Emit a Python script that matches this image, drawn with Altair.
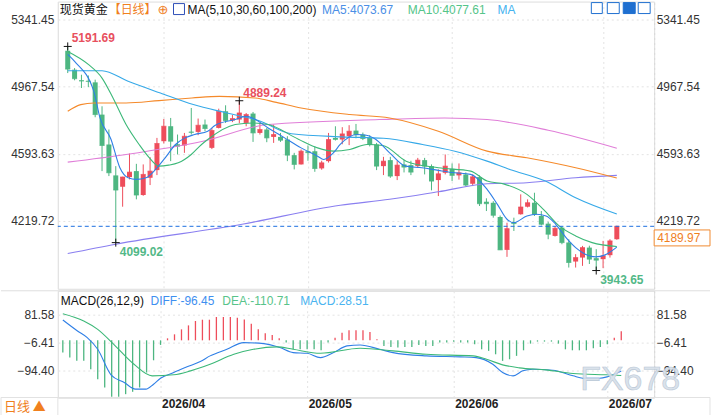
import altair as alt
import pandas as pd

FONT = "Liberation Sans, Noto Sans CJK SC, sans-serif"
CJK = "Noto Sans CJK SC, sans-serif"
UP = "#ee4d5b"
DOWN = "#4db681"
GRID = "#e3e3e3"
ORANGE = "#f0801e"

# ---------------- daily candles (index 0 = first session shown) ----------------
day = list(range(81))
opens = [5167.6, 5062, 5003, 5000, 4991.6, 4812, 4645.6, 4473.5, 4410.2, 4464,
         4497.4, 4364.1, 4460.2, 4502.9, 4663.9, 4747.3, 4647, 4640, 4717, 4715.6,
         4756.7, 4626.8, 4737.8, 4830.6, 4779, 4784.5, 4765.6, 4817.8, 4710, 4729,
         4687.8, 4687.8, 4673.4, 4586.2, 4534.6, 4608, 4608.4, 4512.4, 4552.9, 4682,
         4673.4, 4691.7, 4723, 4701, 4682, 4645.6, 4525.1, 4558.5, 4469.6, 4534.6,
         4530.7, 4525.1, 4558.5, 4525.1, 4447.4, 4487.9, 4510, 4473.5, 4479, 4426.9,
         4464, 4326.9, 4321, 4241.9, 4058.7, 4214, 4257, 4299, 4321.4, 4247.5,
         4204.7, 4136.4, 4182.5, 4099.2, 3993.7, 4015.9, 4071.4, 4012.6, 4007, 4029.2,
         4118]
highs = [5191.69, 5071, 5034, 5030, 5006.6, 4858.3, 4728.9, 4525.1, 4466, 4595.6,
         4537.9, 4534.6, 4575.1, 4682.3, 4787.8, 4793.4, 4701, 4710, 4848.9, 4790,
         4784.5, 4737.8, 4845, 4863.9, 4810, 4889.24, 4821, 4826.7, 4765.6, 4737.8,
         4756.7, 4710, 4691.7, 4599, 4617.9, 4640, 4636.2, 4555, 4710, 4747,
         4742, 4753, 4760, 4712, 4698, 4654.5, 4576.8, 4576.8, 4552.9, 4560,
         4555, 4571, 4571, 4534.6, 4506.8, 4590, 4540, 4540, 4490, 4479,
         4473.5, 4346, 4330, 4250, 4210, 4238, 4368, 4340, 4376.9, 4275,
         4215, 4190, 4190, 4118, 4034.8, 4080.9, 4082, 4062.6, 4108.7, 4118,
         4193]
lows = [5043.3, 5003, 4960, 4965, 4797.2, 4497.4, 4469.6, 4099.02, 4299.1, 4451.3,
        4340.2, 4360, 4419.6, 4475.2, 4651.2, 4552.9, 4590, 4599, 4701, 4697.3,
        4719.5, 4620, 4735, 4765.6, 4770, 4764, 4747, 4660, 4701, 4658.4,
        4654.5, 4660, 4552.9, 4506.8, 4534, 4555, 4493.5, 4505, 4545, 4667.8,
        4647, 4642, 4680, 4670, 4635, 4503, 4475.2, 4460, 4447.4, 4490,
        4475, 4516, 4479, 4390.2, 4358.5, 4479, 4441.8, 4450, 4412, 4414,
        4303, 4275, 4238, 4058, 4019.8, 4164, 4255, 4295, 4247.5, 4195,
        4118, 4133, 4090, 3960.4, 3960.4, 3969.8, 3980, 3943.65, 3957, 4015.9,
        4115]
closes = [5065.4, 5012, 4999, 4997, 4812.2, 4640.1, 4488, 4391.9, 4464.1, 4491.8,
          4364.1, 4479, 4497.4, 4651.2, 4747.3, 4663.9, 4636, 4691.7, 4713, 4752.8,
          4734.5, 4723.4, 4830.6, 4778.9, 4790, 4821.2, 4812.2, 4710.1, 4729, 4682.3,
          4701, 4669.5, 4586.2, 4534.6, 4608.4, 4600, 4512.4, 4543.5, 4673.4, 4674,
          4704.5, 4719.5, 4700, 4679, 4645.6, 4525.1, 4552.9, 4469.6, 4530.7, 4519.6,
          4491.8, 4558.5, 4525.1, 4441.8, 4482.4, 4525.1, 4473.5, 4487.9, 4419.6, 4465.7,
          4315.8, 4316, 4251.4, 4058.7, 4177, 4205, 4297.5, 4321.4, 4257, 4201.4,
          4145.9, 4179, 4099.2, 3988.2, 4015.9, 4071.4, 4007, 4001.5, 4025.4, 4108.7,
          4189.97]

# ---------------- moving averages (session index, price) ----------------
ma5_day = [0, 1, 3.8, 4.7, 6.3, 7.6, 8.8, 10, 11.4, 12.8, 14.2, 15.7, 17.1, 18.5, 20.4,
           21.5, 24.4, 26, 26.9, 29.2, 31.6, 34, 36.4, 37.3, 38.7, 39.7, 42.1, 43.5, 44.9,
           46.9, 49.2, 51.6, 54, 56.4, 58.7, 61.1, 62.6, 64, 65, 66.9, 68.3, 69.7, 71.1,
           72.6, 74, 75.4, 76.9, 78.3, 80]
ma5_val = [5147.1, 5108.3, 4941.6, 4793.4, 4675.1, 4515.7, 4460.2, 4451.3, 4460.2, 4506.8,
           4571.3, 4645.6, 4682.4, 4701.2, 4719.5, 4752.8, 4784.5, 4802.8, 4793.4, 4737.8,
           4682.3, 4626.8, 4580.7, 4562.3, 4599, 4645.6, 4701.2, 4697.3, 4673.4, 4599,
           4525.1, 4515.7, 4501.3, 4488, 4479.1, 4396, 4312.4, 4229.2, 4210.3, 4247.5,
           4256.9, 4247.5, 4201.4, 4127, 4071.5, 4034.8, 4019.8, 4030.9, 4073.67]
ma10_day = [0, 3, 5, 6.6, 8.5, 10.4, 11.9, 13.3, 14.7, 16.1, 18, 19.5, 20.4, 24.4, 26.9,
            29.2, 33.6, 36.4, 38.7, 41.1, 43.6, 45.9, 49.3, 54, 58.7, 61.1, 63.6, 66.9,
            69.3, 71.6, 74, 76.4, 80]
ma10_val = [5163.7, 5091.6, 5015.5, 4904.4, 4756.7, 4645.6, 4571.3, 4525.1, 4530.7, 4543.5,
            4590.1, 4645.6, 4673.4, 4756.7, 4765.6, 4756.7, 4675, 4626.8, 4608.4, 4617.9,
            4645.6, 4640.1, 4552.9, 4515.7, 4497.4, 4441.8, 4425, 4368, 4284.7, 4192,
            4136.4, 4099.2, 4077.61]
ma30_day = [0, 5, 8.8, 13.5, 18.3, 23.2, 27.8, 32.6, 40, 46, 51.7, 56.4, 61.1, 64.4, 69.6, 74, 80]
ma30_val = [5056.6, 5056.6, 4997.2, 4932.2, 4867.8, 4821.1, 4779, 4705, 4688, 4680,
            4645.6, 4608.4, 4552.9, 4506.8, 4441.8, 4349.1, 4258.6]
ma60_day = [0, 1.9, 3.8, 8.5, 13.3, 18.1, 22.1, 27.3, 30.4, 34, 41.1, 46.9, 54, 61.1, 66.9, 74, 80]
ma60_val = [4830.6, 4867.7, 4876.6, 4876.6, 4890, 4904.4, 4913.8, 4904.4, 4880, 4848.9,
            4812.2, 4793.4, 4719.5, 4608.5, 4571.3, 4515.7, 4458.5]
ma100_day = [0, 8.5, 19.7, 29.2, 45.4, 54.9, 61.1, 70, 80]
ma100_val = [4547.3, 4590.1, 4664, 4756.7, 4784.5, 4793.4, 4784.5, 4725, 4625.1]
ma200_day = [0, 7, 25.4, 39.7, 46.9, 54, 61.1, 66.9, 74, 80]
ma200_val = [4038.1, 4090.3, 4201.4, 4307, 4340.2, 4382.4, 4426.9, 4432.4, 4460.2, 4473.5]

# ---------------- MACD(26,12,9) ----------------
macd_hist = [-38.7, -54.4, -64.7, -64.7, -91.1, -122.6, -148.6, -177.9, -177.9, -169.7,
             -162.2, -148.6, -101.5, -62.9, -14.5, 6.3, 18.9, 34.6, 47.1, 61,
             65, 65, 73.5, 73.5, 73.5, 71.3, 66, 52.5, 34.6, 22,
             17, 6.3, -7.2, -28.3, -28.3, -28.3, -28.3, -31.4, -7.2, 8.5,
             24.2, 31.4, 31.4, 31.4, 26.4, 3.1, -17.6, -20.7, -22.9, -20.7,
             -20.7, -14.5, -17.6, -17.6, -7.2, -7.2, -4.1, -7.2, -7.2, -12.6,
             -28.3, -33.3, -44, -64.7, -59.7, -49, -31.4, -10.4, -4, -4.1,
             -4.1, -10.4, -28.3, -31.4, -31.4, -31.4, -25.1, -20.7, -12.6, 8.5,
             28.51]
diff_day = [0, 2.1, 3.5, 5, 6.9, 8.8, 10.4, 11.9, 13, 14, 15.9, 17.8, 19.7, 21.1, 23.5,
            25.9, 28.8, 31.1, 33, 35, 36.9, 38.8, 40.7, 42.6, 45.4, 47.3, 52.1, 56.9, 59.2,
            61.6, 63, 64.5, 65.9, 67.3, 70.2, 73.1, 74.5, 76.9, 78, 80]
diff_val = [64.1, 29.5, 8.5, -28.3, -108.7, -132.9, -153.9, -153.9, -138.3, -119.4,
            -101.5, -83.6, -66.9, -49, -28.3, -7.2, -10.4, -22.9, -38.7, -40.9,
            -54.4, -38.7, -17.6, -14.5, -28.3, -38.7, -49, -52.2, -54.4, -75.4,
            -101.5, -111.9, -96.2, -91.1, -94.3, -111.9, -119.4, -119.4, -115, -96.45]
dea_day = [0, 3, 5, 7.3, 10.2, 12.8, 15.9, 18.3, 21.1, 24.5, 27.3, 30.7, 33, 36.9, 42.6,
           47.3, 52.1, 58.8, 60.7, 63, 65.4, 69.2, 73.1, 77.8, 80]
dea_val = [83.9, 61, 34.6, -12.6, -75.4, -111.9, -108.7, -96.2, -75.4, -44,
           -28.3, -20.7, -28.3, -40.9, -25.1, -33.3, -44, -49, -59.7, -77.3,
           -86.7, -93, -104.6, -108.7, -110.71]

# ---------------- axes / labels ----------------
month_ticks = [14, 35, 56, 78]
month_labels = ["2026/04", "2026/05", "2026/06", "2026/07"]
price_ticks = [5341.45, 4967.54, 4593.63, 4219.72]
macd_ticks = [81.58, -6.41, -94.40]
peak_days = [0, 25]
trough_days = [7, 77]

ma_names = ["MA200", "MA100", "MA60", "MA30", "MA10", "MA5"]
ma_colors = ["#8a7ff0", "#e07ed8", "#f58a2b", "#36a9e8", "#3cb878", "#2f7fe6"]
ma_days = [ma200_day, ma100_day, ma60_day, ma30_day, ma10_day, ma5_day]
ma_vals = [ma200_val, ma100_val, ma60_val, ma30_val, ma10_val, ma5_val]

# ---------------- tables ----------------
candles = pd.DataFrame({"day": day, "open": opens, "high": highs, "low": lows, "close": closes})
candles["dir"] = ["up" if c >= o else "down" for o, c in zip(opens, closes)]

peaks = pd.DataFrame({"day": peak_days, "value": [highs[d] for d in peak_days]})
troughs = pd.DataFrame({"day": trough_days, "value": [lows[d] for d in trough_days]})
marks_df = pd.concat([peaks, troughs], ignore_index=True)
last_df = pd.DataFrame({"price": [closes[-1]]})

hist_df = pd.DataFrame({"day": day, "hist": macd_hist})
hist_df["dir"] = ["up" if h >= 0 else "down" for h in macd_hist]
diff_df = pd.DataFrame({"day": diff_day, "value": diff_val})
dea_df = pd.DataFrame({"day": dea_day, "value": dea_val})
ONE = pd.DataFrame({"k": [0]})

# ---------------- scales ----------------
W, H_TOP, H_MACD = 598, 288, 107
x_scale = alt.Scale(domain=[-0.714, 84.714], nice=False, zero=False)
price_scale = alt.Scale(domain=[3842.1, 5441.4], nice=False, zero=False)
macd_scale = alt.Scale(domain=[-180.1, 156.2], nice=False, zero=False)
dir_color = alt.Color("dir:N", scale=alt.Scale(domain=["up", "down"], range=[UP, DOWN]), legend=None)

common_axis = dict(gridColor=GRID, gridDash=[2, 3], ticks=False, tickSize=0, title=None,
                   labelFont=FONT, labelFontSize=12, labelColor="#333")

x_top = alt.X("day:Q", scale=x_scale,
              axis=alt.Axis(values=month_ticks, labels=False, domain=False, grid=True, **common_axis))
label_expr = " : ".join(f"datum.value == {t} ? '{l}'" for t, l in zip(month_ticks, month_labels)) + " : ''"
x_bottom = alt.X("day:Q", scale=x_scale,
                 axis=alt.Axis(values=month_ticks, labelExpr=label_expr, grid=True, domain=True,
                               domainColor="#dddddd", labelAlign="left", labelOffset=1,
                               labelFontWeight="bold", labelPadding=1, labelFlush=False,
                               labelOverlap=False, **{**common_axis, "labelColor": "#222"}))


def left_axis(values):
    return alt.Axis(values=values, format=".2f", grid=True, domain=True, domainColor="#e4e4e4",
                    labelPadding=4, minExtent=57, maxExtent=57, **common_axis)


def right_axis(values):
    return alt.Axis(values=values, format=".2f", orient="right", grid=False, domain=True,
                    domainColor="#d8d8d8", domainDash=[2, 3], labelPadding=2,
                    minExtent=56, maxExtent=56, **common_axis)


def txt(s, x, y, color, size=12, font=FONT, weight="normal", align="left", **kw):
    return alt.Chart(ONE).mark_text(text=s, align=align, baseline="middle", color=color,
                                    fontSize=size, font=font, fontWeight=weight, **kw
                                    ).encode(x=alt.value(x), y=alt.value(y))


def frame(x1, x2, y1, y2, stroke, fill=None):
    if fill:
        mk = alt.Chart(ONE).mark_rect(fill=fill, stroke=stroke, strokeWidth=1)
    else:
        mk = alt.Chart(ONE).mark_rect(filled=False, color=stroke, strokeWidth=1)
    return mk.encode(x=alt.value(x1), x2=alt.value(x2), y=alt.value(y1), y2=alt.value(y2))


# ---------------- price panel ----------------
py = lambda f: alt.Y(f, scale=price_scale, axis=left_axis(price_ticks))
cbase = alt.Chart(candles)
wicks = cbase.mark_rule(strokeWidth=1).encode(x=x_top, y=py("low:Q"), y2="high:Q", color=dir_color)
bodies = cbase.mark_bar(size=5).encode(x=x_top, y=py("open:Q"), y2="close:Q", color=dir_color)
flat = cbase.mark_tick(orient="horizontal", size=5, thickness=1).encode(x=x_top, y=py("close:Q"), color=dir_color)

# one line per moving average, each with its own fixed colour
ma_lines = [
    alt.Chart(pd.DataFrame({"day": d, "value": v})).mark_line(
        color=c, strokeWidth=1.1, interpolate="monotone").encode(x=x_top, y=py("value:Q"))
    for d, v, c in zip(ma_days, ma_vals, ma_colors)
]

crosses = alt.Chart(marks_df).mark_point(shape="M-1,0L1,0M0,-1L0,1", size=64, filled=False,
                                         color="#111", strokeWidth=1, opacity=1
                                         ).encode(x=x_top, y=py("value:Q"))
peak_text = alt.Chart(peaks).mark_text(align="left", baseline="middle", dx=4, dy=-8, color="#e8505e",
                                       fontSize=12, font=FONT, fontWeight="bold"
                                       ).encode(x=x_top, y=py("value:Q"), text=alt.Text("value:Q", format=".2f"))
trough_text = alt.Chart(troughs).mark_text(align="left", baseline="middle", dx=4, dy=9, color="#52b887",
                                           fontSize=12, font=FONT, fontWeight="bold"
                                           ).encode(x=x_top, y=py("value:Q"), text=alt.Text("value:Q", format=".2f"))

last_box = frame(598, 654, 229, 245, "#f08a30", fill="white")
last_text = alt.Chart(last_df).mark_text(align="left", baseline="middle", color=ORANGE, fontSize=12,
                                         font=FONT).encode(x=alt.value(601), y=alt.value(237.5),
                                                           text=alt.Text("price:Q", format=".2f"))

header = [
    txt("现货黄金", 2, 8, "#111", font=CJK),
    txt("【日线】", 51, 8, ORANGE, font=CJK),
    txt("⊕", 100, 8, ORANGE, size=13, font="DejaVu Sans"),
    frame(116, 127, 2, 13, "#2f4fb8"),
    txt("MA(5,10,30,60,100,200)", 130, 8, "#111"),
    txt(f"MA5:{ma5_val[-1]:.2f}", 265, 8, "#4b8fe6"),
    txt(f"MA10:{ma10_val[-1]:.2f}", 351, 8, "#55c58a"),
    txt("MA", 441, 8, "#45b3ef"),
    frame(535, 546, 1, 12, "#1f6fd0"),
    frame(551, 563, 1, 12, "#1f6fd0"),
    frame(567, 579, 1, 12, "#1f6fd0", fill="#1f6fd0"),
    frame(582, 594, 1, 12, "#1f6fd0"),
]

price_main = alt.layer(wicks, bodies, flat, *ma_lines, crosses, peak_text, trough_text,
                       last_box, last_text, *header)
price_right = alt.Chart(last_df).mark_rule(color="#1c6fe0", strokeDash=[4, 3], strokeWidth=1).encode(
    y=alt.Y("price:Q", scale=price_scale, axis=right_axis(price_ticks)))
price_panel = alt.layer(price_main, price_right).resolve_scale(y="independent").properties(width=W, height=H_TOP)

# ---------------- MACD panel ----------------
my = lambda f: alt.Y(f, scale=macd_scale, axis=left_axis(macd_ticks))
hist = alt.Chart(hist_df).mark_rule(strokeWidth=1.3).encode(
    x=x_bottom, y=my("hist:Q"), y2=alt.datum(0), color=dir_color)
diff_line = alt.Chart(diff_df).mark_line(color="#2f7fe6", strokeWidth=1.1, interpolate="monotone").encode(
    x=x_bottom, y=my("value:Q"))

macd_header = [
    txt("MACD(26,12,9)", 3, 10, "#111"),
    txt(f"DIFF:{diff_val[-1]:.2f}", 93, 10, "#3e8ff0"),
    txt(f"DEA:{dea_val[-1]:.2f}", 165, 10, "#58c48a"),
    txt(f"MACD:{macd_hist[-1]:.2f}", 243, 10, "#4ab4f0"),
]
sep_top = alt.Chart(ONE).mark_rule(color="#dedede").encode(
    x=alt.value(-57), x2=alt.value(654), y=alt.value(0))
strip = frame(-57, 654, 107, 126, "#e2e2e2")
strip_cell = alt.Chart(ONE).mark_rule(color="#e2e2e2").encode(
    x=alt.value(0), y=alt.value(107), y2=alt.value(126))
strip_text = txt("日线 ▲", -54, 117, ORANGE, size=13, font=CJK)
watermark = txt("FX678", 574, 90, "#d6dfe9", size=34, align="center", stroke="#b3c2d2",
                strokeWidth=0.6, opacity=0.9)

macd_main = alt.layer(hist, diff_line, *macd_header, sep_top, strip, strip_cell, strip_text)
macd_right = alt.Chart(dea_df).mark_line(color="#3cb878", strokeWidth=1.1, interpolate="monotone").encode(
    x=x_bottom, y=alt.Y("value:Q", scale=macd_scale, axis=right_axis(macd_ticks)))
macd_panel = alt.layer(macd_main, macd_right, watermark).resolve_scale(y="independent").properties(
    width=W, height=H_MACD)

chart = alt.vconcat(price_panel, macd_panel, spacing=0).properties(padding=0).configure_view(
    stroke=None).configure(background="white")

chart.save("out.html", embed_options={"renderer": "svg", "actions": False})
